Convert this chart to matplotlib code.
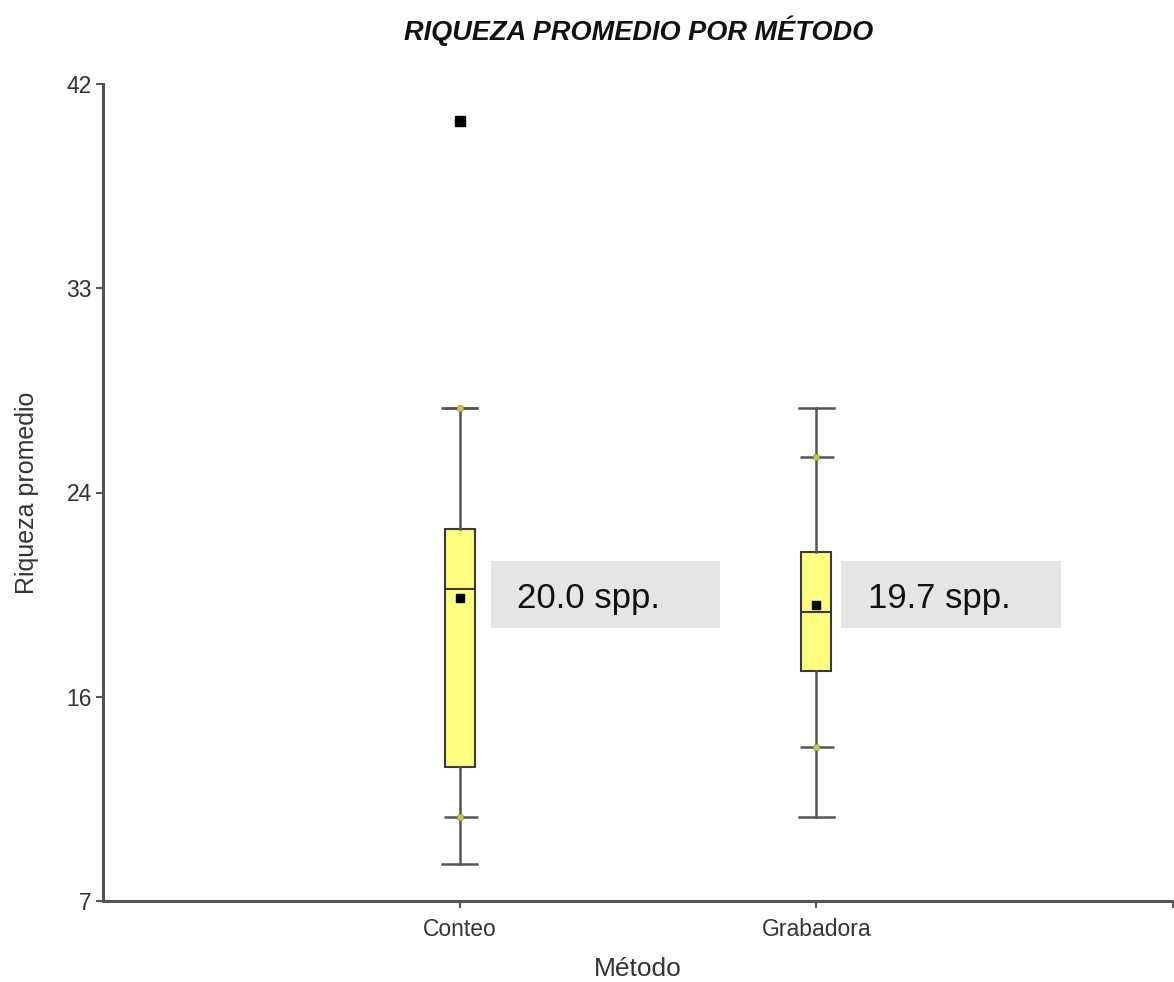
import matplotlib
matplotlib.use("Agg")
import matplotlib.pyplot as plt
from matplotlib.patches import Rectangle
from matplotlib import font_manager

# Summary statistics per method (species richness)
categories = ["Conteo", "Grabadora"]
q1 = [12.75, 16.87]
medians = [20.37, 19.37]
q3 = [22.94, 21.94]
whisker_low = [8.59, 10.59]
whisker_high = [28.13, 28.13]
pct_low = [10.59, 13.61]
pct_high = [28.13, 26.00]
means = [20.0, 19.7]
outliers = [[40.43], []]
mean_labels = ["20.0 spp.", "19.7 spp."]

ytick_values = [7.0, 15.75, 24.5, 33.25, 42.0]
ytick_labels = ["7", "16", "24", "33", "42"]

installed = {f.name for f in font_manager.fontManager.ttflist}
narrow = "Liberation Sans Narrow" if "Liberation Sans Narrow" in installed else "Liberation Sans"

fig = plt.figure(figsize=(11.74, 9.82), dpi=100)
ax = fig.add_axes([103 / 1174, 81 / 982, 1070 / 1174, 817 / 982])

positions = [1, 2]
stats = []
for i, name in enumerate(categories):
    stats.append(dict(label=name, q1=q1[i], med=medians[i], q3=q3[i],
                      whislo=whisker_low[i], whishi=whisker_high[i],
                      mean=means[i], fliers=outliers[i]))

edge = "#3a3a3a"
ax.bxp(stats, positions=positions, widths=0.084, capwidths=0.098,
       showmeans=True, patch_artist=True,
       boxprops=dict(facecolor="#ffff80", edgecolor=edge, linewidth=1.5),
       medianprops=dict(color=edge, linewidth=1.5),
       whiskerprops=dict(color="#555555", linewidth=1.8),
       capprops=dict(color="#555555", linewidth=1.8),
       meanprops=dict(marker="s", markersize=5.5, markerfacecolor="black",
                      markeredgecolor="black"),
       flierprops=dict(marker="s", markersize=6.5, markerfacecolor="black",
                       markeredgecolor="black"),
       zorder=3)

# Percentile marks: short caps with a small dot
for i, x in enumerate(positions):
    for v in (pct_low[i], pct_high[i]):
        ax.hlines(v, x - 0.045, x + 0.05, color="#555555", linewidth=1.8, zorder=3)
        ax.plot(x, v, marker="o", markersize=4.5, color="#c8c850",
                markeredgecolor="#9a9a30", markeredgewidth=0.6, zorder=4)

# Mean labels in grey boxes to the right of each box
box_offsets = [(0.087, 0.731), (0.070, 0.686)]
text_offsets = [0.162, 0.146]
for i, x in enumerate(positions):
    x0, x1 = box_offsets[i]
    ax.add_patch(Rectangle((x + x0, 18.70), x1 - x0, 2.87,
                           facecolor="#e5e5e5", edgecolor="none", zorder=2))
    ax.text(x + text_offsets[i], 19.95, mean_labels[i], fontsize=25,
            family=[narrow, "DejaVu Sans"], color="#111111",
            ha="left", va="center", zorder=3)

ax.set_xlim(0, 3)
ax.set_ylim(7, 42)
ax.set_xticks([1, 2, 3])
ax.set_xticklabels(["Conteo", "Grabadora", ""])
ax.set_yticks(ytick_values)
ax.set_yticklabels(ytick_labels)

for side in ("top", "right"):
    ax.spines[side].set_visible(False)
for side in ("left", "bottom"):
    ax.spines[side].set_color("#555555")
    ax.spines[side].set_linewidth(2.2)

ax.tick_params(axis="both", direction="out", length=5, width=1.5,
               color="#555555", labelcolor="#333333", labelsize=16.5)
for lab in ax.get_xticklabels() + ax.get_yticklabels():
    lab.set_family("Liberation Sans")
ax.tick_params(axis="x", pad=7)
ax.tick_params(axis="y", pad=3)

ax.set_xlabel("Método", fontsize=19, family="Liberation Sans", color="#333333", labelpad=12)
ax.set_ylabel("Riqueza promedio", fontsize=18, family=narrow, color="#333333", labelpad=20)

fig.text(0.544, 0.969, "RIQUEZA PROMEDIO POR MÉTODO", ha="center", va="center",
         fontsize=19.5, fontweight="bold", fontstyle="italic",
         family="Liberation Sans", color="#111111")

fig.savefig("out.png", dpi=100, facecolor="white")
